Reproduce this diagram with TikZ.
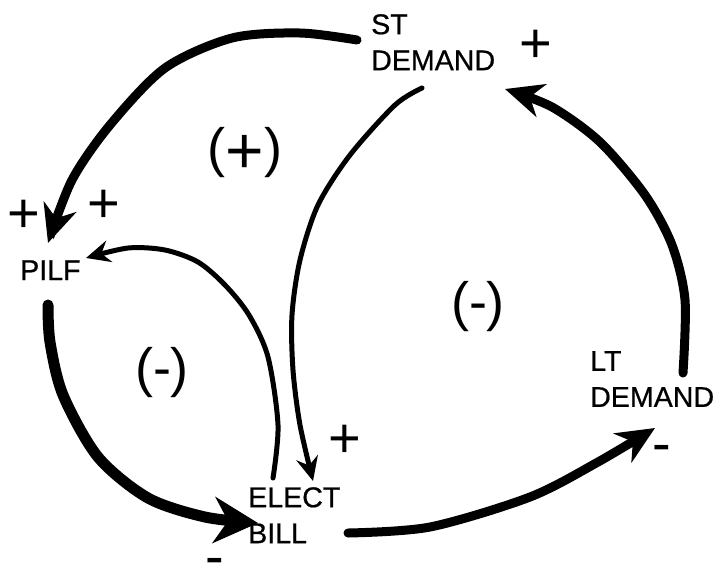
\documentclass[tikz,border=0pt]{standalone}
\usepackage{fontspec}
\setmainfont{Liberation Sans}
\usetikzlibrary{arrows.meta}
\begin{document}
\begin{tikzpicture}[x=1pt,y=-1pt,
  var/.style={inner sep=0pt, align=left, font=\fontsize{28.6}{36}\selectfont\addfontfeatures{FakeBold=0.6}},
  pol/.style={inner sep=0pt, anchor=base, font=\fontsize{56}{60}\selectfont},
  minussign/.style={inner sep=0pt, anchor=center, font=\fontsize{56}{60}\selectfont},
  looplabel/.style={inner sep=0pt, anchor=base, font=\fontsize{54}{60}\selectfont},
  thicklink/.style={line width=9pt, line cap=round, -{Stealth[length=38pt,width=34pt,inset=12pt]}},
  thinlink/.style={line width=5pt, line cap=round, -{Stealth[length=24pt,width=22pt,inset=8pt]}},
]
\useasboundingbox (0,0) rectangle (717,566);
\fill[white] (0,0) rectangle (717,566);

% variables
\node[var, anchor=north west] (st) at (371,14) {ST\\DEMAND};
\node[var, anchor=base west] (pilf) at (20,280) {PILF};
\node[var, anchor=north west] (eb) at (248,487) {ELECT\\BILL};
\node[var, anchor=north west] (lt) at (590,351) {LT\\DEMAND};

% connector end points
\coordinate (a1) at (357,40);   \coordinate (b1) at (48,243);
\coordinate (a2) at (273,478);  \coordinate (b2) at (86,258);
\coordinate (a3) at (422,88);   \coordinate (b3) at (313,481);
\coordinate (a4) at (48,305);   \coordinate (b4) at (258,523);
\coordinate (a5) at (348,533);  \coordinate (b5) at (655,428);
\coordinate (a6) at (683,373);  \coordinate (b6) at (505,89);

% ST DEMAND -> PILF
\draw[thicklink] plot[smooth] coordinates {(a1) (300,33) (232,38) (165,68) (110,125) (72,180) (b1)};
% ELECT BILL -> PILF
\draw[thinlink] plot[smooth] coordinates {(a2) (278,425) (268,357) (249,315) (225,285) (198,262) (165,250) (128,248) (b2)};
% ST DEMAND -> ELECT BILL
\draw[thinlink] plot[smooth] coordinates {(a3) (395,105) (350,155) (318,205) (300,260) (292,315) (293,370) (300,425) (b3)};
% PILF -> ELECT BILL
\draw[thicklink, line width=11pt, -{Stealth[length=44pt,width=46pt,inset=14pt]}] plot[smooth] coordinates {(a4) (50,342) (63,395) (98,457) (148,498) (205,517) (b4)};
% ELECT BILL -> LT DEMAND
\draw[thicklink] plot[smooth] coordinates {(a5) (430,527) (530,497) (598,462) (b5)};
% LT DEMAND -> ST DEMAND
\draw[thicklink] plot[smooth] coordinates {(a6) (685,300) (672,245) (645,195) (600,142) (552,107) (b6)};

% polarities
\node[pol] (p1) at (24,232) {+};
\node[pol] (p2) at (104,222) {+};
\node[pol] (p3) at (536,62) {+};
\node[pol] (p4) at (345,457) {+};
\node[minussign] (p5) at (662,447) {\raisebox{-13pt}[4.5pt][0pt]{-}};
\node[minussign] (p6) at (215,560) {\raisebox{-13pt}[4.5pt][0pt]{-}};

% loop labels
\node[looplabel] (l1) at (245,166) {(\raisebox{-7pt}{\fontsize{66}{66}\selectfont+})};
\node[looplabel] (l2) at (162,386) {(-)};
\node[looplabel] (l3) at (478,320) {(-)};
\end{tikzpicture}
\end{document}
